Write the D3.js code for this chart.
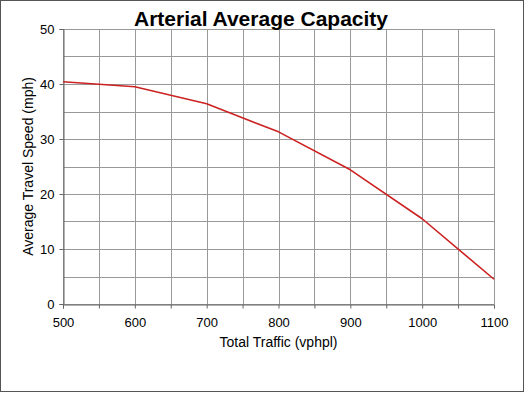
<!DOCTYPE html>
<html>
<head>
<meta charset="utf-8">
<script src="https://cdn.jsdelivr.net/npm/d3@7"></script>
<style>
  body { margin: 0; background: #fff; }
  svg { display: block; font-family: "Liberation Sans", Arial, sans-serif; }
</style>
</head>
<body>
<script>
const width = 525;
const height = 393;
const margin = {top: 29, right: 31, bottom: 89, left: 63};

// values
const traffic = [500, 600, 700, 800, 900, 1000, 1100];
const speed = [40.4, 39.5, 36.4, 31.3, 24.4, 15.5, 4.5];
const xTicks = [500, 600, 700, 800, 900, 1000, 1100];
const yTicks = [0, 10, 20, 30, 40, 50];

const data = traffic.map((t, i) => ({x: t, y: speed[i]}));

const x = d3.scaleLinear()
    .domain([500, 1100])
    .range([margin.left, width - margin.right]);

const y = d3.scaleLinear()
    .domain([0, 50])
    .range([height - margin.bottom, margin.top]);

const svg = d3.select("body").append("svg")
    .attr("width", width)
    .attr("height", height);

// outer frame
svg.append("rect")
    .attr("x", 0.5).attr("y", 0.5)
    .attr("width", width - 2).attr("height", height - 2)
    .attr("fill", "#fff")
    .attr("stroke", "#555");

// grid lines
svg.append("g")
    .selectAll("line")
    .data(d3.range(500, 1101, 50))
    .join("line")
    .attr("x1", d => Math.round(x(d)) + 0.5)
    .attr("x2", d => Math.round(x(d)) + 0.5)
    .attr("y1", y(0))
    .attr("y2", y(50))
    .attr("stroke", "#999");

svg.append("g")
    .selectAll("line")
    .data(d3.range(0, 51, 5))
    .join("line")
    .attr("x1", x(500))
    .attr("x2", x(1100))
    .attr("y1", d => Math.round(y(d)) + 0.5)
    .attr("y2", d => Math.round(y(d)) + 0.5)
    .attr("stroke", "#999");

// axes
const xAxis = g => g
    .attr("transform", `translate(0,${Math.round(y(0)) + 0.5})`)
    .call(d3.axisBottom(x).tickValues(d3.range(500, 1101, 50)).tickSize(4).tickFormat(d => xTicks.includes(d) ? d : ""))
    .call(g => g.select(".domain").attr("stroke", "#666"))
    .call(g => g.selectAll(".tick line").attr("stroke", "#666"))
    .call(g => g.selectAll(".tick text").attr("font-size", 13).attr("fill", "#000").attr("dy", "1.2em"));

const yAxis = g => g
    .attr("transform", `translate(${Math.round(x(500)) + 0.5},0)`)
    .call(d3.axisLeft(y).tickValues(yTicks).tickSize(4).tickPadding(5))
    .call(g => g.select(".domain").attr("stroke", "#666"))
    .call(g => g.selectAll(".tick line").attr("stroke", "#666"))
    .call(g => g.selectAll(".tick text").attr("font-size", 13).attr("fill", "#000"));

svg.append("g").call(xAxis);
svg.append("g").call(yAxis);

const line = d3.line()
    .x(d => x(d.x))
    .y(d => y(d.y));

svg.append("path")
    .datum(data)
    .attr("fill", "none")
    .attr("stroke", "#cc2222")
    .attr("stroke-width", 1.6)
    .attr("stroke-linejoin", "round")
    .attr("d", line);

// title & labels
svg.append("text")
    .attr("x", 261).attr("y", 26)
    .attr("text-anchor", "middle")
    .attr("font-size", 21)
    .attr("font-weight", "bold")
    .text("Arterial Average Capacity");

svg.append("text")
    .attr("x", (x(500) + x(1100)) / 2).attr("y", 347)
    .attr("text-anchor", "middle")
    .attr("font-size", 14)
    .text("Total Traffic (vphpl)");

svg.append("text")
    .attr("transform", `translate(33,${(y(0) + y(50)) / 2}) rotate(-90)`)
    .attr("text-anchor", "middle")
    .attr("font-size", 14)
    .text("Average Travel Speed (mph)");
</script>
</body>
</html>
